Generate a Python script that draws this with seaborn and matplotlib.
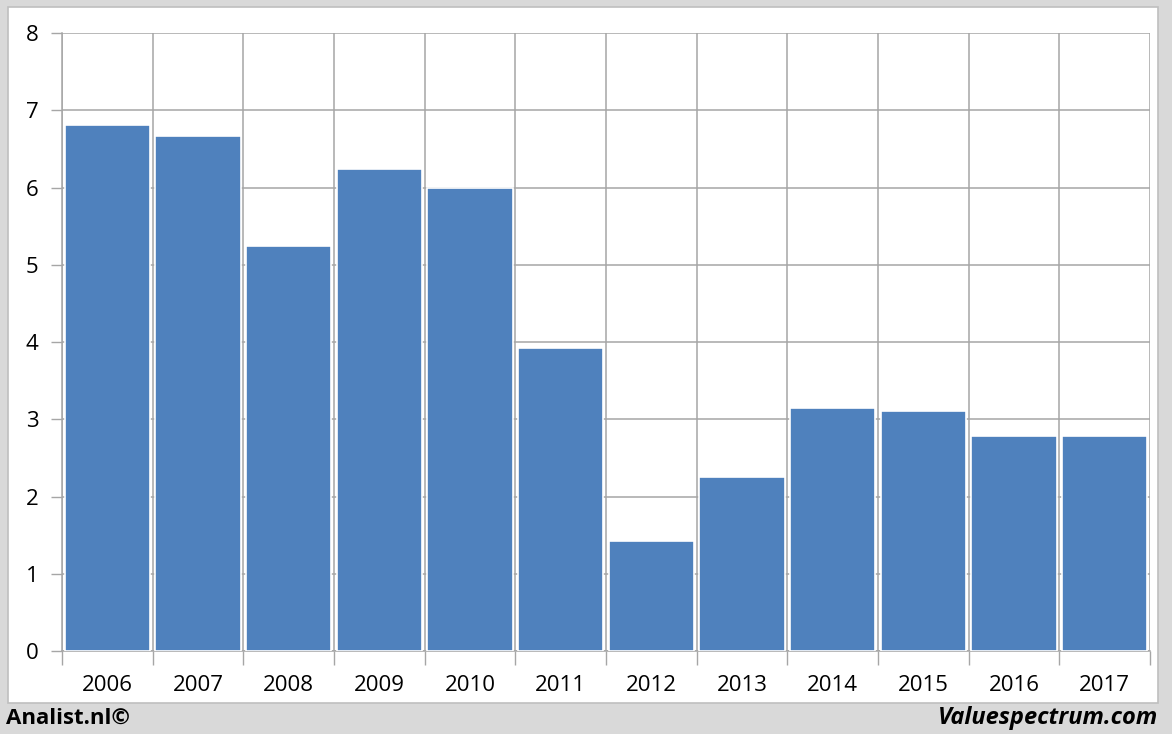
import numpy as np
import pandas as pd
import matplotlib
matplotlib.use('Agg')
import matplotlib.pyplot as plt
import seaborn as sns
from matplotlib.patches import Rectangle

years = ['2006', '2007', '2008', '2009', '2010', '2011',
         '2012', '2013', '2014', '2015', '2016', '2017']
values = [6.81, 6.67, 5.24, 6.24, 5.99, 3.92,
          1.42, 2.25, 3.15, 3.11, 2.78, 2.78]
y_ticks = [0, 1, 2, 3, 4, 5, 6, 7, 8]

bar_color = '#4f81bd'
grid_color = '#a6a6a6'

sns.set_style('white')
plt.rcParams['font.family'] = ['Open Sans', 'DejaVu Sans']

df = pd.DataFrame({'year': years, 'value': values})

fig = plt.figure(figsize=(11.72, 7.34), dpi=100)
fig.patch.set_facecolor('#d9d9d9')
W, H = 1172, 734
# white chart panel behind the axes
fig.patches.append(Rectangle((8 / W, 1 - 703 / H), 1150 / W, 696 / H,
                             transform=fig.transFigure, facecolor='white',
                             edgecolor='#bfbfbf', linewidth=1.2, zorder=-1))

ax = fig.add_axes([62 / W, 1 - 651 / H, 1088 / W, 618 / H])
ax.set_zorder(1)
ax.set_facecolor('none')
sns.barplot(data=df, x='year', y='value', color=bar_color, width=0.94,
            edgecolor='white', linewidth=1.2, saturation=1, ax=ax, zorder=3)

ax.set_xlim(-0.5, len(years) - 0.5)
ax.set_ylim(0, 8)
ax.set_yticks(y_ticks)
ax.set_xlabel('')
ax.set_ylabel('')

# category boundaries as minor ticks + vertical grid
ax.set_xticks(np.arange(-0.5, len(years)), minor=True)
ax.tick_params(axis='x', which='major', length=0, pad=17, labelsize=16,
               labelcolor='black')
ax.tick_params(axis='x', which='minor', length=10, width=1, color=grid_color,
               direction='out', bottom=True)
ax.tick_params(axis='y', length=8, width=1, color=grid_color, direction='out',
               left=True, pad=9, labelsize=16, labelcolor='black')
ax.grid(True, axis='y', which='major', color=grid_color, linewidth=1.1, zorder=0)
ax.grid(True, axis='x', which='minor', color=grid_color, linewidth=1.1, zorder=0)
ax.grid(False, axis='x', which='major')
ax.set_axisbelow(True)

for side in ['top', 'right']:
    ax.spines[side].set_visible(False)
for side in ['left', 'bottom']:
    ax.spines[side].set_color(grid_color)
    ax.spines[side].set_linewidth(1.1)

fig.text(6 / W, 1 - 718 / H, 'Analist.nl©', fontsize=16, fontweight='bold',
         ha='left', va='center', color='black')
fig.text(1158 / W, 1 - 718 / H, 'Valuespectrum.com', fontsize=17,
         fontweight='bold', fontstyle='italic', ha='right', va='center',
         color='black')

fig.savefig('out.png', dpi=100)
